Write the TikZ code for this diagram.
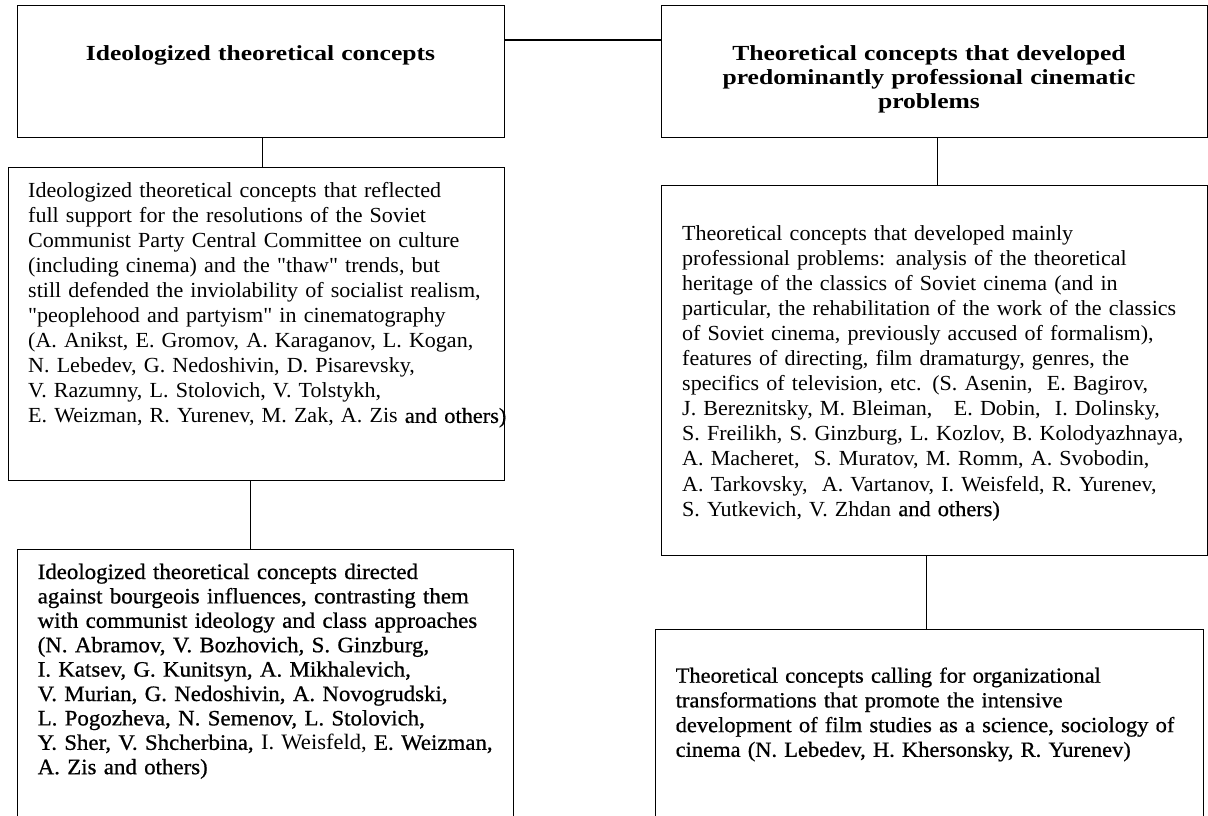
\documentclass[tikz,border=0pt]{standalone}
\usepackage{fontspec}
\newfontfamily\titlefont{Liberation Serif}[FakeStretch=1.19,Ligatures=TeXOff]
\newfontfamily\bodyfont{Liberation Serif}[FakeStretch=1.025,Ligatures=TeXOff]
\newfontfamily\darkfont{Liberation Serif}[FakeStretch=1.04,FakeBold=0.7,Ligatures=TeXOff]
\tikzset{
  frame/.style={draw=black, line width=1.3pt, inner sep=0pt, anchor=north west},
  link/.style={draw=black, line width=1.3pt},
  headtext/.style={inner sep=0pt, text width=520pt, align=center, anchor=base,
    font=\titlefont\bfseries\fontsize{21.5}{23.8}\selectfont},
  bodytext/.style={inner sep=0pt, text width=560pt, align=left, anchor=base west,
    font=\bodyfont\fontsize{21.5}{25.1}\selectfont},
  darktext/.style={inner sep=0pt, text width=560pt, align=left, anchor=base west,
    font=\darkfont\fontsize{22}{24.4}\selectfont},
}
\begin{document}
\begin{tikzpicture}[x=1pt,y=-1pt]
\clip (0,0) rectangle (1208,816);
\fill[white] (0,0) rectangle (1208,816);

% boxes
\node[frame, minimum width=487pt, minimum height=132pt] (A) at (17,5) {};
\node[frame, minimum width=546pt, minimum height=132pt] (B) at (661,5) {};
\node[frame, minimum width=496pt, minimum height=313pt] (C) at (7.7,167) {};
\node[frame, minimum width=546pt, minimum height=370pt] (D) at (661,185) {};
\node[frame, minimum width=496pt, minimum height=290pt] (E) at (17,549) {};
\node[frame, minimum width=548pt, minimum height=210pt] (F) at (655,629) {};

% headings
\node[headtext] (tA) at (260.5,61) {Ideologized theoretical concepts};
\node[headtext] (tB) at (929,61) {Theoretical concepts that developed\\
predominantly professional cinematic\\problems};

% box texts
\node[bodytext] (tC) at (28,197) {Ideologized theoretical concepts that reflected\\
full support for the resolutions of the Soviet\\
Communist Party Central Committee on culture\\
(including cinema) and the "thaw" trends, but\\
still defended the inviolability of socialist realism,\\
"peoplehood and partyism" in cinematography\\
(A. Anikst, E. Gromov, A. Karaganov, L. Kogan,\\
N. Lebedev, G. Nedoshivin, D. Pisarevsky,\\
V. Razumny, L. Stolovich, V. Tolstykh,\\
E. Weizman, R. Yurenev, M. Zak, A. Zis {\darkfont and others)}};

\node[bodytext] (tD) at (682,240) {Theoretical concepts that developed mainly\\
professional problems: analysis of the theoretical\\
heritage of the classics of Soviet cinema (and in\\
particular, the rehabilitation of the work of the classics\\
of Soviet cinema, previously accused of formalism),\\
features of directing, film dramaturgy, genres, the\\
specifics of television, etc. (S. Asenin,\ \ E. Bagirov,\\
J. Bereznitsky, M. Bleiman,\ \ \ E. Dobin,\ \ I. Dolinsky,\\
S. Freilikh, S. Ginzburg, L. Kozlov, B. Kolodyazhnaya,\\
A. Macheret,\ \ S. Muratov, M. Romm, A. Svobodin,\\
A. Tarkovsky,\ \ A. Vartanov, I. Weisfeld, R. Yurenev,\\
S. Yutkevich, V. Zhdan {\darkfont and others)}};

\node[darktext] (tE) at (37.5,579) {Ideologized theoretical concepts directed\\
against bourgeois influences, contrasting them\\
with communist ideology and class approaches\\
(N. Abramov, V. Bozhovich, S. Ginzburg,\\
I. Katsev, G. Kunitsyn, A. Mikhalevich,\\
V. Murian, G. Nedoshivin, A. Novogrudski,\\
L. Pogozheva, N. Semenov, L. Stolovich,\\
Y. Sher, V. Shcherbina, {\bodyfont I. Weisfeld,} E. Weizman,\\
A. Zis and others)};

\node[darktext, font=\darkfont\fontsize{21.6}{24.7}\selectfont] (tF) at (675.5,682.7) {Theoretical concepts calling for organizational\\
transformations that promote the intensive\\
development of film studies as a science, sociology of\\
cinema (N. Lebedev, H. Khersonsky, R. Yurenev)};

% connectors
\draw[link] ([yshift=-35pt]A.north east) -- ([yshift=-35pt]B.north west);
\draw[link] ([xshift=1.5pt]A.south) -- ([xshift=1.5pt]A.south |- C.north);
\draw[link] ([xshift=-6pt]C.south) -- ([xshift=-6pt]C.south |- E.north);
\draw[link] ([xshift=3pt]B.south) -- ([xshift=3pt]B.south |- D.north);
\draw[link] ([xshift=-8pt]D.south) -- ([xshift=-8pt]D.south |- F.north);
\end{tikzpicture}
\end{document}
